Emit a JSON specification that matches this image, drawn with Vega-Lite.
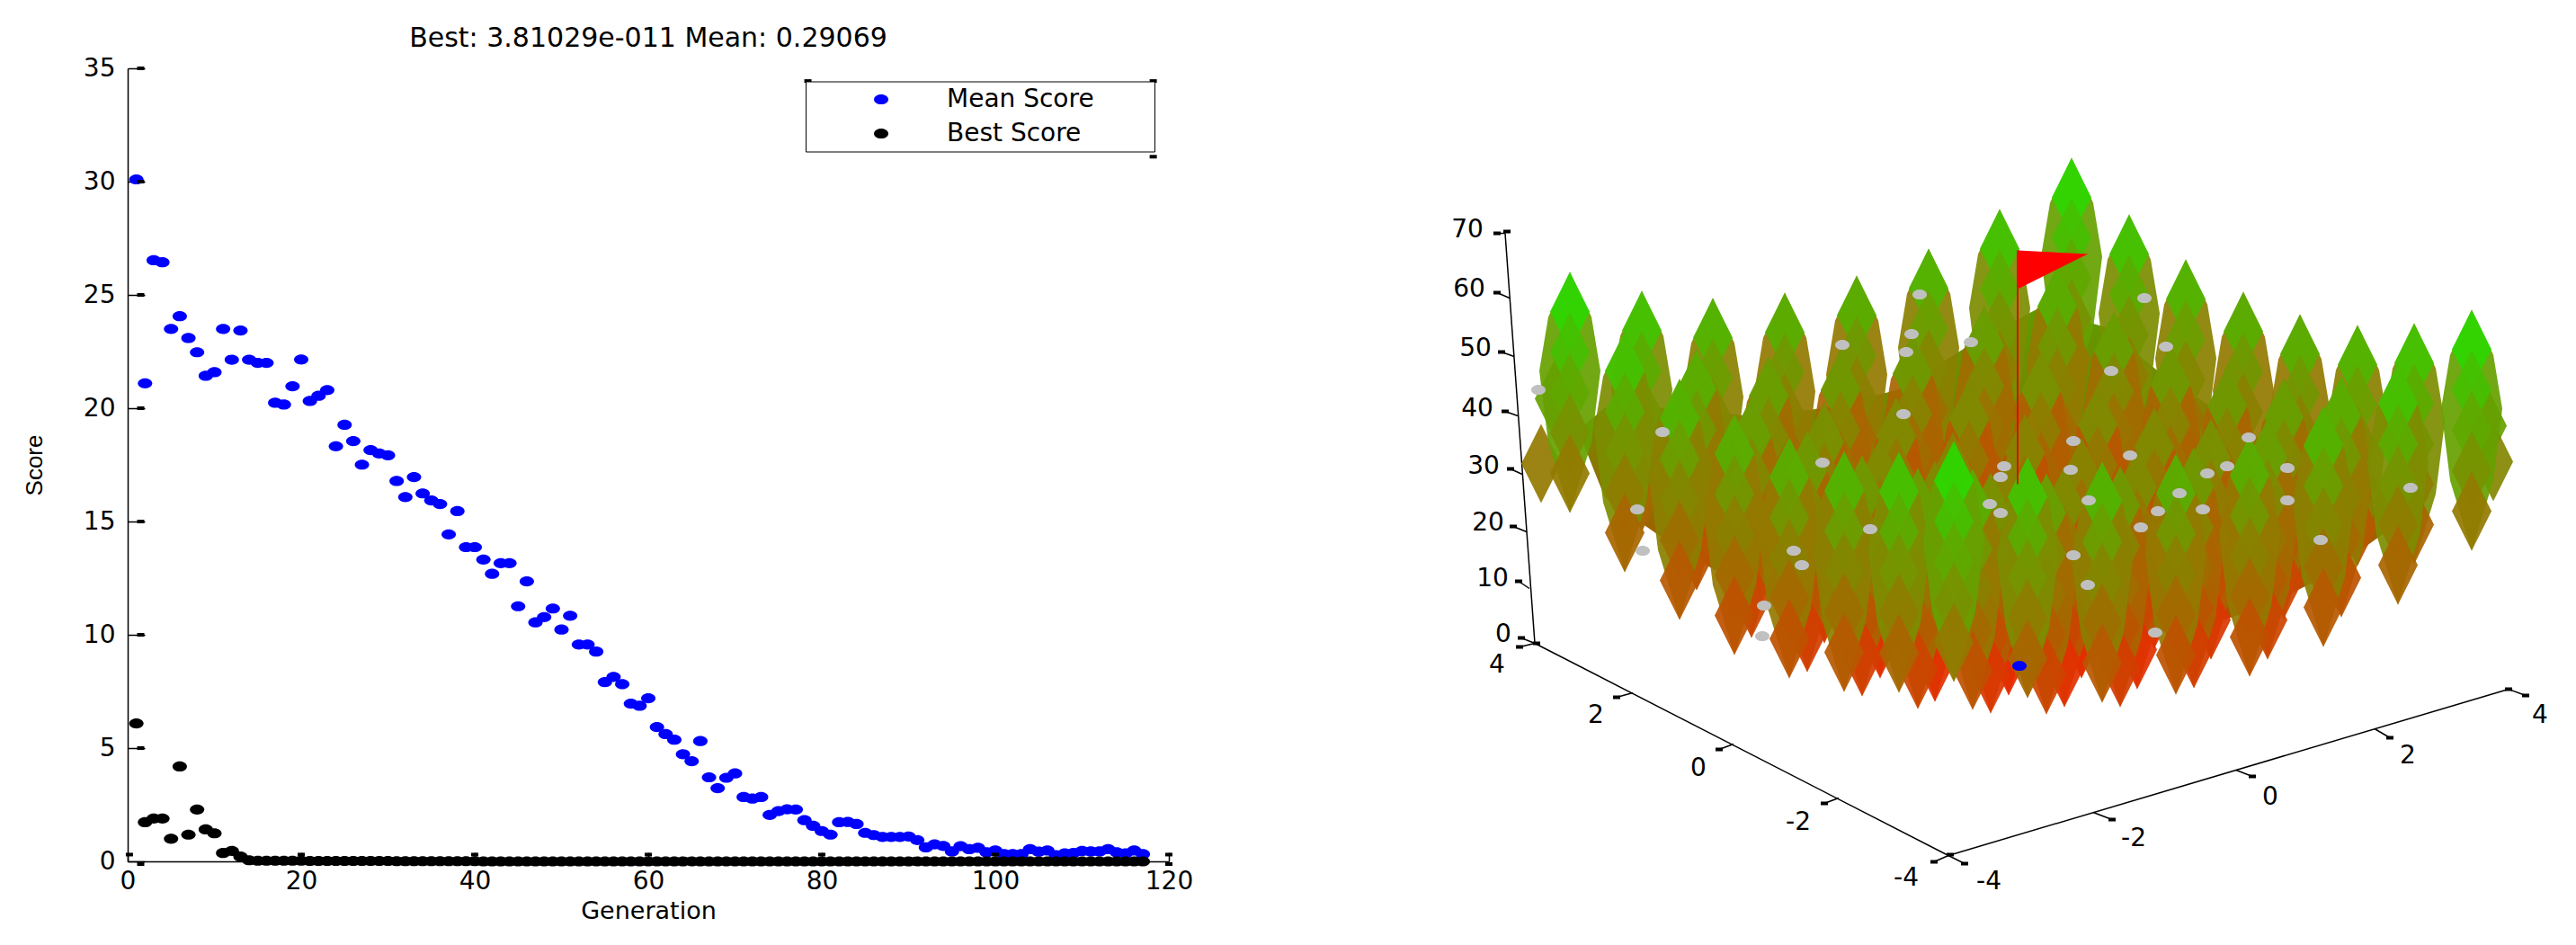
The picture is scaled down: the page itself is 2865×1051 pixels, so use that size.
{
"$schema":"https://vega.github.io/schema/vega-lite/v6.json",
"background":"white",
"padding":{"left":25,"top":28,"right":0,"bottom":0},
"bounds":"flush",
"spacing":201,
"config":{"view":{"stroke":null},"font":"DejaVu Sans","axis":{"grid":false,"domainColor":"black","tickColor":"black","labelColor":"black","titleColor":"black","domainWidth":1.5,"tickWidth":1.5,"labelFont":"DejaVu Sans","labelFontSize":28,"titleFont":"DejaVu Sans","titleFontWeight":"normal"}},
"datasets":{
"scores":[
{"generation":1,"score":30.1,"series":"Mean Score"},{"generation":2,"score":21.1,"series":"Mean Score"},{"generation":3,"score":26.53,"series":"Mean Score"},{"generation":4,"score":26.44,"series":"Mean Score"},{"generation":5,"score":23.5,"series":"Mean Score"},{"generation":6,"score":24.06,"series":"Mean Score"},{"generation":7,"score":23.1,"series":"Mean Score"},{"generation":8,"score":22.47,"series":"Mean Score"},{"generation":9,"score":21.43,"series":"Mean Score"},{"generation":10,"score":21.59,"series":"Mean Score"},
{"generation":11,"score":23.5,"series":"Mean Score"},{"generation":12,"score":22.14,"series":"Mean Score"},{"generation":13,"score":23.43,"series":"Mean Score"},{"generation":14,"score":22.14,"series":"Mean Score"},{"generation":15,"score":22.0,"series":"Mean Score"},{"generation":16,"score":22.0,"series":"Mean Score"},{"generation":17,"score":20.24,"series":"Mean Score"},{"generation":18,"score":20.16,"series":"Mean Score"},{"generation":19,"score":20.97,"series":"Mean Score"},{"generation":20,"score":22.15,"series":"Mean Score"},
{"generation":21,"score":20.32,"series":"Mean Score"},{"generation":22,"score":20.55,"series":"Mean Score"},{"generation":23,"score":20.8,"series":"Mean Score"},{"generation":24,"score":18.32,"series":"Mean Score"},{"generation":25,"score":19.27,"series":"Mean Score"},{"generation":26,"score":18.55,"series":"Mean Score"},{"generation":27,"score":17.51,"series":"Mean Score"},{"generation":28,"score":18.15,"series":"Mean Score"},{"generation":29,"score":18.0,"series":"Mean Score"},{"generation":30,"score":17.92,"series":"Mean Score"},
{"generation":31,"score":16.79,"series":"Mean Score"},{"generation":32,"score":16.08,"series":"Mean Score"},{"generation":33,"score":16.96,"series":"Mean Score"},{"generation":34,"score":16.24,"series":"Mean Score"},{"generation":35,"score":15.93,"series":"Mean Score"},{"generation":36,"score":15.77,"series":"Mean Score"},{"generation":37,"score":14.43,"series":"Mean Score"},{"generation":38,"score":15.46,"series":"Mean Score"},{"generation":39,"score":13.87,"series":"Mean Score"},{"generation":40,"score":13.87,"series":"Mean Score"},
{"generation":41,"score":13.32,"series":"Mean Score"},{"generation":42,"score":12.69,"series":"Mean Score"},{"generation":43,"score":13.16,"series":"Mean Score"},{"generation":44,"score":13.16,"series":"Mean Score"},{"generation":45,"score":11.26,"series":"Mean Score"},{"generation":46,"score":12.36,"series":"Mean Score"},{"generation":47,"score":10.55,"series":"Mean Score"},{"generation":48,"score":10.78,"series":"Mean Score"},{"generation":49,"score":11.16,"series":"Mean Score"},{"generation":50,"score":10.23,"series":"Mean Score"},
{"generation":51,"score":10.84,"series":"Mean Score"},{"generation":52,"score":9.57,"series":"Mean Score"},{"generation":53,"score":9.57,"series":"Mean Score"},{"generation":54,"score":9.26,"series":"Mean Score"},{"generation":55,"score":7.91,"series":"Mean Score"},{"generation":56,"score":8.14,"series":"Mean Score"},{"generation":57,"score":7.82,"series":"Mean Score"},{"generation":58,"score":6.96,"series":"Mean Score"},{"generation":59,"score":6.87,"series":"Mean Score"},{"generation":60,"score":7.2,"series":"Mean Score"},
{"generation":61,"score":5.93,"series":"Mean Score"},{"generation":62,"score":5.62,"series":"Mean Score"},{"generation":63,"score":5.37,"series":"Mean Score"},{"generation":64,"score":4.73,"series":"Mean Score"},{"generation":65,"score":4.42,"series":"Mean Score"},{"generation":66,"score":5.31,"series":"Mean Score"},{"generation":67,"score":3.71,"series":"Mean Score"},{"generation":68,"score":3.23,"series":"Mean Score"},{"generation":69,"score":3.69,"series":"Mean Score"},{"generation":70,"score":3.88,"series":"Mean Score"},
{"generation":71,"score":2.84,"series":"Mean Score"},{"generation":72,"score":2.77,"series":"Mean Score"},{"generation":73,"score":2.84,"series":"Mean Score"},{"generation":74,"score":2.05,"series":"Mean Score"},{"generation":75,"score":2.22,"series":"Mean Score"},{"generation":76,"score":2.3,"series":"Mean Score"},{"generation":77,"score":2.29,"series":"Mean Score"},{"generation":78,"score":1.82,"series":"Mean Score"},{"generation":79,"score":1.57,"series":"Mean Score"},{"generation":80,"score":1.34,"series":"Mean Score"},
{"generation":81,"score":1.18,"series":"Mean Score"},{"generation":82,"score":1.73,"series":"Mean Score"},{"generation":83,"score":1.74,"series":"Mean Score"},{"generation":84,"score":1.65,"series":"Mean Score"},{"generation":85,"score":1.26,"series":"Mean Score"},{"generation":86,"score":1.16,"series":"Mean Score"},{"generation":87,"score":1.08,"series":"Mean Score"},{"generation":88,"score":1.08,"series":"Mean Score"},{"generation":89,"score":1.08,"series":"Mean Score"},{"generation":90,"score":1.1,"series":"Mean Score"},
{"generation":91,"score":0.94,"series":"Mean Score"},{"generation":92,"score":0.62,"series":"Mean Score"},{"generation":93,"score":0.75,"series":"Mean Score"},{"generation":94,"score":0.68,"series":"Mean Score"},{"generation":95,"score":0.44,"series":"Mean Score"},{"generation":96,"score":0.67,"series":"Mean Score"},{"generation":97,"score":0.54,"series":"Mean Score"},{"generation":98,"score":0.6,"series":"Mean Score"},{"generation":99,"score":0.4,"series":"Mean Score"},{"generation":100,"score":0.48,"series":"Mean Score"},
{"generation":101,"score":0.32,"series":"Mean Score"},{"generation":102,"score":0.32,"series":"Mean Score"},{"generation":103,"score":0.32,"series":"Mean Score"},{"generation":104,"score":0.54,"series":"Mean Score"},{"generation":105,"score":0.43,"series":"Mean Score"},{"generation":106,"score":0.48,"series":"Mean Score"},{"generation":107,"score":0.27,"series":"Mean Score"},{"generation":108,"score":0.35,"series":"Mean Score"},{"generation":109,"score":0.37,"series":"Mean Score"},{"generation":110,"score":0.46,"series":"Mean Score"},
{"generation":111,"score":0.44,"series":"Mean Score"},{"generation":112,"score":0.44,"series":"Mean Score"},{"generation":113,"score":0.54,"series":"Mean Score"},{"generation":114,"score":0.4,"series":"Mean Score"},{"generation":115,"score":0.35,"series":"Mean Score"},{"generation":116,"score":0.48,"series":"Mean Score"},{"generation":117,"score":0.32,"series":"Mean Score"},
{"generation":1,"score":6.09,"series":"Best Score"},{"generation":2,"score":1.73,"series":"Best Score"},{"generation":3,"score":1.89,"series":"Best Score"},{"generation":4,"score":1.89,"series":"Best Score"},{"generation":5,"score":1.0,"series":"Best Score"},{"generation":6,"score":4.19,"series":"Best Score"},{"generation":7,"score":1.18,"series":"Best Score"},{"generation":8,"score":2.29,"series":"Best Score"},{"generation":9,"score":1.41,"series":"Best Score"},{"generation":10,"score":1.24,"series":"Best Score"},
{"generation":11,"score":0.37,"series":"Best Score"},{"generation":12,"score":0.46,"series":"Best Score"},{"generation":13,"score":0.21,"series":"Best Score"},{"generation":14,"score":0.05,"series":"Best Score"},{"generation":15,"score":0.03,"series":"Best Score"},{"generation":16,"score":0.03,"series":"Best Score"},{"generation":17,"score":0.03,"series":"Best Score"},{"generation":18,"score":0.03,"series":"Best Score"},{"generation":19,"score":0.03,"series":"Best Score"},{"generation":20,"score":0.03,"series":"Best Score"},
{"generation":21,"score":0.02,"series":"Best Score"},{"generation":22,"score":0.02,"series":"Best Score"},{"generation":23,"score":0.02,"series":"Best Score"},{"generation":24,"score":0.02,"series":"Best Score"},{"generation":25,"score":0.02,"series":"Best Score"},{"generation":26,"score":0.02,"series":"Best Score"},{"generation":27,"score":0.02,"series":"Best Score"},{"generation":28,"score":0.02,"series":"Best Score"},{"generation":29,"score":0.02,"series":"Best Score"},{"generation":30,"score":0.02,"series":"Best Score"},
{"generation":31,"score":0.01,"series":"Best Score"},{"generation":32,"score":0.01,"series":"Best Score"},{"generation":33,"score":0.01,"series":"Best Score"},{"generation":34,"score":0.01,"series":"Best Score"},{"generation":35,"score":0.01,"series":"Best Score"},{"generation":36,"score":0.01,"series":"Best Score"},{"generation":37,"score":0.01,"series":"Best Score"},{"generation":38,"score":0.01,"series":"Best Score"},{"generation":39,"score":0.01,"series":"Best Score"},{"generation":40,"score":0.01,"series":"Best Score"},
{"generation":41,"score":0,"series":"Best Score"},{"generation":42,"score":0,"series":"Best Score"},{"generation":43,"score":0,"series":"Best Score"},{"generation":44,"score":0,"series":"Best Score"},{"generation":45,"score":0,"series":"Best Score"},{"generation":46,"score":0,"series":"Best Score"},{"generation":47,"score":0,"series":"Best Score"},{"generation":48,"score":0,"series":"Best Score"},{"generation":49,"score":0,"series":"Best Score"},{"generation":50,"score":0,"series":"Best Score"},
{"generation":51,"score":0,"series":"Best Score"},{"generation":52,"score":0,"series":"Best Score"},{"generation":53,"score":0,"series":"Best Score"},{"generation":54,"score":0,"series":"Best Score"},{"generation":55,"score":0,"series":"Best Score"},{"generation":56,"score":0,"series":"Best Score"},{"generation":57,"score":0,"series":"Best Score"},{"generation":58,"score":0,"series":"Best Score"},{"generation":59,"score":0,"series":"Best Score"},{"generation":60,"score":0,"series":"Best Score"},
{"generation":61,"score":0,"series":"Best Score"},{"generation":62,"score":0,"series":"Best Score"},{"generation":63,"score":0,"series":"Best Score"},{"generation":64,"score":0,"series":"Best Score"},{"generation":65,"score":0,"series":"Best Score"},{"generation":66,"score":0,"series":"Best Score"},{"generation":67,"score":0,"series":"Best Score"},{"generation":68,"score":0,"series":"Best Score"},{"generation":69,"score":0,"series":"Best Score"},{"generation":70,"score":0,"series":"Best Score"},
{"generation":71,"score":0,"series":"Best Score"},{"generation":72,"score":0,"series":"Best Score"},{"generation":73,"score":0,"series":"Best Score"},{"generation":74,"score":0,"series":"Best Score"},{"generation":75,"score":0,"series":"Best Score"},{"generation":76,"score":0,"series":"Best Score"},{"generation":77,"score":0,"series":"Best Score"},{"generation":78,"score":0,"series":"Best Score"},{"generation":79,"score":0,"series":"Best Score"},{"generation":80,"score":0,"series":"Best Score"},
{"generation":81,"score":0,"series":"Best Score"},{"generation":82,"score":0,"series":"Best Score"},{"generation":83,"score":0,"series":"Best Score"},{"generation":84,"score":0,"series":"Best Score"},{"generation":85,"score":0,"series":"Best Score"},{"generation":86,"score":0,"series":"Best Score"},{"generation":87,"score":0,"series":"Best Score"},{"generation":88,"score":0,"series":"Best Score"},{"generation":89,"score":0,"series":"Best Score"},{"generation":90,"score":0,"series":"Best Score"},
{"generation":91,"score":0,"series":"Best Score"},{"generation":92,"score":0,"series":"Best Score"},{"generation":93,"score":0,"series":"Best Score"},{"generation":94,"score":0,"series":"Best Score"},{"generation":95,"score":0,"series":"Best Score"},{"generation":96,"score":0,"series":"Best Score"},{"generation":97,"score":0,"series":"Best Score"},{"generation":98,"score":0,"series":"Best Score"},{"generation":99,"score":0,"series":"Best Score"},{"generation":100,"score":0,"series":"Best Score"},
{"generation":101,"score":0,"series":"Best Score"},{"generation":102,"score":0,"series":"Best Score"},{"generation":103,"score":0,"series":"Best Score"},{"generation":104,"score":0,"series":"Best Score"},{"generation":105,"score":0,"series":"Best Score"},{"generation":106,"score":0,"series":"Best Score"},{"generation":107,"score":0,"series":"Best Score"},{"generation":108,"score":0,"series":"Best Score"},{"generation":109,"score":0,"series":"Best Score"},{"generation":110,"score":0,"series":"Best Score"},
{"generation":111,"score":0,"series":"Best Score"},{"generation":112,"score":0,"series":"Best Score"},{"generation":113,"score":0,"series":"Best Score"},{"generation":114,"score":0,"series":"Best Score"},{"generation":115,"score":0,"series":"Best Score"},{"generation":116,"score":0,"series":"Best Score"},{"generation":117,"score":0,"series":"Best Score"}
],
"leftNubs":[
{"generation":1.5,"score":35},{"generation":1.5,"score":30},{"generation":1.5,"score":25},{"generation":1.5,"score":20},{"generation":1.5,"score":15},{"generation":1.5,"score":10},{"generation":1.5,"score":5},{"generation":1.5,"score":-0.12},
{"generation":0.2,"score":0.3},{"generation":20,"score":0.3},{"generation":40,"score":0.3},{"generation":60,"score":0.3},{"generation":80,"score":0.3},{"generation":100,"score":0.3},{"generation":120,"score":0.3},{"generation":120,"score":-0.12},
{"generation":78.4,"score":34.44},{"generation":118.2,"score":34.44},{"generation":118.2,"score":31.1}
],
"hull":[
{"h":1760,"v":470,"v2":490},{"h":1784,"v":450,"v2":550},{"h":1870,"v":450,"v2":610},{"h":1950,"v":460,"v2":655},{"h":2030,"v":450,"v2":675},{"h":2110,"v":430,"v2":690},{"h":2190,"v":380,"v2":700},{"h":2265,"v":340,"v2":705},{"h":2340,"v":360,"v2":705},{"h":2400,"v":410,"v2":700},{"h":2460,"v":450,"v2":690},{"h":2520,"v":490,"v2":670},{"h":2580,"v":510,"v2":640},{"h":2650,"v":530,"v2":590},{"h":2700,"v":530,"v2":550}
],
"surface":[
{"h":1728,"v":440,"z":42},{"h":1713,"v":512,"z":30},{"h":2765,"v":470,"z":42},{"h":2772,"v":510,"z":34},
{"h":2303,"v":172,"z":42,"spike":1},{"h":2303,"v":216,"z":58},{"h":2303,"v":261,"z":51},{"h":2303,"v":306,"z":44},{"h":2303,"v":351,"z":37},{"h":2303,"v":396,"z":30},
{"h":2367,"v":235,"z":36,"spike":1},{"h":2367,"v":279,"z":52},{"h":2367,"v":324,"z":45},{"h":2367,"v":369,"z":38},{"h":2367,"v":414,"z":31},{"h":2367,"v":459,"z":24},
{"h":2223,"v":229,"z":36,"spike":1},{"h":2223,"v":273,"z":52},{"h":2223,"v":318,"z":45},{"h":2223,"v":363,"z":38},{"h":2223,"v":408,"z":31},{"h":2223,"v":453,"z":24},
{"h":2430,"v":285,"z":32,"spike":1},{"h":2430,"v":329,"z":48},{"h":2430,"v":374,"z":41},{"h":2430,"v":419,"z":34},{"h":2430,"v":464,"z":27},{"h":2430,"v":509,"z":20},
{"h":2287,"v":293,"z":30,"spike":1},{"h":2287,"v":337,"z":46},{"h":2287,"v":382,"z":39},{"h":2287,"v":427,"z":32},{"h":2287,"v":472,"z":25},{"h":2287,"v":517,"z":18},
{"h":2144,"v":273,"z":32,"spike":1},{"h":2144,"v":317,"z":48},{"h":2144,"v":362,"z":41},{"h":2144,"v":407,"z":34},{"h":2144,"v":452,"z":27},{"h":2144,"v":497,"z":20},
{"h":2494,"v":321,"z":30,"spike":1},{"h":2494,"v":365,"z":46},{"h":2494,"v":410,"z":39},{"h":2494,"v":455,"z":32},{"h":2494,"v":500,"z":25},{"h":2494,"v":545,"z":18},
{"h":2350,"v":343,"z":26,"spike":1},{"h":2350,"v":387,"z":42},{"h":2350,"v":432,"z":35},{"h":2350,"v":477,"z":28},{"h":2350,"v":522,"z":21},{"h":2350,"v":567,"z":14},
{"h":2206,"v":337,"z":26,"spike":1},{"h":2206,"v":381,"z":42},{"h":2206,"v":426,"z":35},{"h":2206,"v":471,"z":28},{"h":2206,"v":516,"z":21},{"h":2206,"v":561,"z":14},
{"h":2064,"v":303,"z":30,"spike":1},{"h":2064,"v":347,"z":46},{"h":2064,"v":392,"z":39},{"h":2064,"v":437,"z":32},{"h":2064,"v":482,"z":25},{"h":2064,"v":527,"z":18},
{"h":2557,"v":346,"z":30,"spike":1},{"h":2557,"v":390,"z":46},{"h":2557,"v":435,"z":39},{"h":2557,"v":480,"z":32},{"h":2557,"v":525,"z":25},{"h":2557,"v":570,"z":18},
{"h":2413,"v":380,"z":24,"spike":1},{"h":2413,"v":424,"z":40},{"h":2413,"v":469,"z":33},{"h":2413,"v":514,"z":26},{"h":2413,"v":559,"z":19},{"h":2413,"v":604,"z":12},
{"h":2269,"v":387,"z":22,"spike":1},{"h":2269,"v":431,"z":38},{"h":2269,"v":476,"z":31},{"h":2269,"v":521,"z":24},{"h":2269,"v":566,"z":17},{"h":2269,"v":611,"z":10},
{"h":2126,"v":368,"z":24,"spike":1},{"h":2126,"v":412,"z":40},{"h":2126,"v":457,"z":33},{"h":2126,"v":502,"z":26},{"h":2126,"v":547,"z":19},{"h":2126,"v":592,"z":12},
{"h":1984,"v":322,"z":30,"spike":1},{"h":1984,"v":366,"z":46},{"h":1984,"v":411,"z":39},{"h":1984,"v":456,"z":32},{"h":1984,"v":501,"z":25},{"h":1984,"v":546,"z":18},
{"h":2621,"v":358,"z":32,"spike":1},{"h":2621,"v":402,"z":48},{"h":2621,"v":447,"z":41},{"h":2621,"v":492,"z":34},{"h":2621,"v":537,"z":27},{"h":2621,"v":582,"z":20},
{"h":2476,"v":404,"z":24,"spike":1},{"h":2476,"v":448,"z":40},{"h":2476,"v":493,"z":33},{"h":2476,"v":538,"z":26},{"h":2476,"v":583,"z":19},{"h":2476,"v":628,"z":12},
{"h":2332,"v":425,"z":20,"spike":1},{"h":2332,"v":469,"z":36},{"h":2332,"v":514,"z":29},{"h":2332,"v":559,"z":22},{"h":2332,"v":604,"z":15},{"h":2332,"v":649,"z":8},
{"h":2189,"v":419,"z":20,"spike":1},{"h":2189,"v":463,"z":36},{"h":2189,"v":508,"z":29},{"h":2189,"v":553,"z":22},{"h":2189,"v":598,"z":15},{"h":2189,"v":643,"z":8},
{"h":2046,"v":386,"z":24,"spike":1},{"h":2046,"v":430,"z":40},{"h":2046,"v":475,"z":33},{"h":2046,"v":520,"z":26},{"h":2046,"v":565,"z":19},{"h":2046,"v":610,"z":12},
{"h":1904,"v":328,"z":32,"spike":1},{"h":1904,"v":372,"z":48},{"h":1904,"v":417,"z":41},{"h":1904,"v":462,"z":34},{"h":1904,"v":507,"z":27},{"h":1904,"v":552,"z":20},
{"h":2684,"v":356,"z":36,"spike":1},{"h":2684,"v":400,"z":52},{"h":2684,"v":445,"z":45},{"h":2684,"v":490,"z":38},{"h":2684,"v":535,"z":31},{"h":2684,"v":580,"z":24},
{"h":2539,"v":417,"z":26,"spike":1},{"h":2539,"v":461,"z":42},{"h":2539,"v":506,"z":35},{"h":2539,"v":551,"z":28},{"h":2539,"v":596,"z":21},{"h":2539,"v":641,"z":14},
{"h":2395,"v":450,"z":20,"spike":1},{"h":2395,"v":494,"z":36},{"h":2395,"v":539,"z":29},{"h":2395,"v":584,"z":22},{"h":2395,"v":629,"z":15},{"h":2395,"v":674,"z":8},
{"h":2251,"v":457,"z":18,"spike":1},{"h":2251,"v":501,"z":34},{"h":2251,"v":546,"z":27},{"h":2251,"v":591,"z":20},{"h":2251,"v":636,"z":13},{"h":2251,"v":681,"z":6},
{"h":2108,"v":438,"z":20,"spike":1},{"h":2108,"v":482,"z":36},{"h":2108,"v":527,"z":29},{"h":2108,"v":572,"z":22},{"h":2108,"v":617,"z":15},{"h":2108,"v":662,"z":8},
{"h":1966,"v":393,"z":26,"spike":1},{"h":1966,"v":437,"z":42},{"h":1966,"v":482,"z":35},{"h":1966,"v":527,"z":28},{"h":1966,"v":572,"z":21},{"h":1966,"v":617,"z":14},
{"h":1825,"v":320,"z":36,"spike":1},{"h":1825,"v":364,"z":52},{"h":1825,"v":409,"z":45},{"h":1825,"v":454,"z":38},{"h":1825,"v":499,"z":31},{"h":1825,"v":544,"z":24},
{"h":2748,"v":341,"z":42,"spike":1},{"h":2748,"v":385,"z":58},{"h":2748,"v":430,"z":51},{"h":2748,"v":475,"z":44},{"h":2748,"v":520,"z":37},{"h":2748,"v":565,"z":30},
{"h":2603,"v":415,"z":30,"spike":1},{"h":2603,"v":459,"z":46},{"h":2603,"v":504,"z":39},{"h":2603,"v":549,"z":32},{"h":2603,"v":594,"z":25},{"h":2603,"v":639,"z":18},
{"h":2458,"v":462,"z":22,"spike":1},{"h":2458,"v":506,"z":38},{"h":2458,"v":551,"z":31},{"h":2458,"v":596,"z":24},{"h":2458,"v":641,"z":17},{"h":2458,"v":686,"z":10},
{"h":2314,"v":483,"z":18,"spike":1},{"h":2314,"v":527,"z":34},{"h":2314,"v":572,"z":27},{"h":2314,"v":617,"z":20},{"h":2314,"v":662,"z":13},{"h":2314,"v":707,"z":6},
{"h":2171,"v":477,"z":18,"spike":1},{"h":2171,"v":521,"z":34},{"h":2171,"v":566,"z":27},{"h":2171,"v":611,"z":20},{"h":2171,"v":656,"z":13},{"h":2171,"v":701,"z":6},
{"h":2028,"v":444,"z":22,"spike":1},{"h":2028,"v":488,"z":38},{"h":2028,"v":533,"z":31},{"h":2028,"v":578,"z":24},{"h":2028,"v":623,"z":17},{"h":2028,"v":668,"z":10},
{"h":1886,"v":385,"z":30,"spike":1},{"h":1886,"v":429,"z":46},{"h":1886,"v":474,"z":39},{"h":1886,"v":519,"z":32},{"h":1886,"v":564,"z":25},{"h":1886,"v":609,"z":18},
{"h":1745,"v":299,"z":42,"spike":1},{"h":1745,"v":343,"z":58},{"h":1745,"v":388,"z":51},{"h":1745,"v":433,"z":44},{"h":1745,"v":478,"z":37},{"h":1745,"v":523,"z":30},
{"h":2666,"v":401,"z":36,"spike":1},{"h":2666,"v":445,"z":52},{"h":2666,"v":490,"z":45},{"h":2666,"v":535,"z":38},{"h":2666,"v":580,"z":31},{"h":2666,"v":625,"z":24},
{"h":2521,"v":462,"z":26,"spike":1},{"h":2521,"v":506,"z":42},{"h":2521,"v":551,"z":35},{"h":2521,"v":596,"z":28},{"h":2521,"v":641,"z":21},{"h":2521,"v":686,"z":14},
{"h":2376,"v":495,"z":20,"spike":1},{"h":2376,"v":539,"z":36},{"h":2376,"v":584,"z":29},{"h":2376,"v":629,"z":22},{"h":2376,"v":674,"z":15},{"h":2376,"v":719,"z":8},
{"h":2233,"v":502,"z":18,"spike":1},{"h":2233,"v":546,"z":34},{"h":2233,"v":591,"z":27},{"h":2233,"v":636,"z":20},{"h":2233,"v":681,"z":13},{"h":2233,"v":726,"z":6},
{"h":2090,"v":483,"z":20,"spike":1},{"h":2090,"v":527,"z":36},{"h":2090,"v":572,"z":29},{"h":2090,"v":617,"z":22},{"h":2090,"v":662,"z":15},{"h":2090,"v":707,"z":8},
{"h":1947,"v":438,"z":26,"spike":1},{"h":1947,"v":482,"z":42},{"h":1947,"v":527,"z":35},{"h":1947,"v":572,"z":28},{"h":1947,"v":617,"z":21},{"h":1947,"v":662,"z":14},
{"h":1806,"v":365,"z":36,"spike":1},{"h":1806,"v":409,"z":52},{"h":1806,"v":454,"z":45},{"h":1806,"v":499,"z":38},{"h":1806,"v":544,"z":31},{"h":1806,"v":589,"z":24},
{"h":2583,"v":448,"z":32,"spike":1},{"h":2583,"v":492,"z":48},{"h":2583,"v":537,"z":41},{"h":2583,"v":582,"z":34},{"h":2583,"v":627,"z":27},{"h":2583,"v":672,"z":20},
{"h":2439,"v":494,"z":24,"spike":1},{"h":2439,"v":538,"z":40},{"h":2439,"v":583,"z":33},{"h":2439,"v":628,"z":26},{"h":2439,"v":673,"z":19},{"h":2439,"v":718,"z":12},
{"h":2295,"v":515,"z":20,"spike":1},{"h":2295,"v":559,"z":36},{"h":2295,"v":604,"z":29},{"h":2295,"v":649,"z":22},{"h":2295,"v":694,"z":15},{"h":2295,"v":739,"z":8},
{"h":2151,"v":509,"z":20,"spike":1},{"h":2151,"v":553,"z":36},{"h":2151,"v":598,"z":29},{"h":2151,"v":643,"z":22},{"h":2151,"v":688,"z":15},{"h":2151,"v":733,"z":8},
{"h":2009,"v":476,"z":24,"spike":1},{"h":2009,"v":520,"z":40},{"h":2009,"v":565,"z":33},{"h":2009,"v":610,"z":26},{"h":2009,"v":655,"z":19},{"h":2009,"v":700,"z":12},
{"h":1867,"v":418,"z":32,"spike":1},{"h":1867,"v":462,"z":48},{"h":1867,"v":507,"z":41},{"h":1867,"v":552,"z":34},{"h":1867,"v":597,"z":27},{"h":1867,"v":642,"z":20},
{"h":2501,"v":481,"z":30,"spike":1},{"h":2501,"v":525,"z":46},{"h":2501,"v":570,"z":39},{"h":2501,"v":615,"z":32},{"h":2501,"v":660,"z":25},{"h":2501,"v":705,"z":18},
{"h":2357,"v":515,"z":24,"spike":1},{"h":2357,"v":559,"z":40},{"h":2357,"v":604,"z":33},{"h":2357,"v":649,"z":26},{"h":2357,"v":694,"z":19},{"h":2357,"v":739,"z":12},
{"h":2213,"v":522,"z":22,"spike":1},{"h":2213,"v":566,"z":38},{"h":2213,"v":611,"z":31},{"h":2213,"v":656,"z":24},{"h":2213,"v":701,"z":17},{"h":2213,"v":746,"z":10},
{"h":2070,"v":503,"z":24,"spike":1},{"h":2070,"v":547,"z":40},{"h":2070,"v":592,"z":33},{"h":2070,"v":637,"z":26},{"h":2070,"v":682,"z":19},{"h":2070,"v":727,"z":12},
{"h":1928,"v":457,"z":30,"spike":1},{"h":1928,"v":501,"z":46},{"h":1928,"v":546,"z":39},{"h":1928,"v":591,"z":32},{"h":1928,"v":636,"z":25},{"h":1928,"v":681,"z":18},
{"h":2419,"v":501,"z":30,"spike":1},{"h":2419,"v":545,"z":46},{"h":2419,"v":590,"z":39},{"h":2419,"v":635,"z":32},{"h":2419,"v":680,"z":25},{"h":2419,"v":725,"z":18},
{"h":2275,"v":523,"z":26,"spike":1},{"h":2275,"v":567,"z":42},{"h":2275,"v":612,"z":35},{"h":2275,"v":657,"z":28},{"h":2275,"v":702,"z":21},{"h":2275,"v":747,"z":14},
{"h":2132,"v":517,"z":26,"spike":1},{"h":2132,"v":561,"z":42},{"h":2132,"v":606,"z":35},{"h":2132,"v":651,"z":28},{"h":2132,"v":696,"z":21},{"h":2132,"v":741,"z":14},
{"h":1989,"v":483,"z":30,"spike":1},{"h":1989,"v":527,"z":46},{"h":1989,"v":572,"z":39},{"h":1989,"v":617,"z":32},{"h":1989,"v":662,"z":25},{"h":1989,"v":707,"z":18},
{"h":2337,"v":510,"z":32,"spike":1},{"h":2337,"v":554,"z":48},{"h":2337,"v":599,"z":41},{"h":2337,"v":644,"z":34},{"h":2337,"v":689,"z":27},{"h":2337,"v":734,"z":20},
{"h":2193,"v":518,"z":30,"spike":1},{"h":2193,"v":562,"z":46},{"h":2193,"v":607,"z":39},{"h":2193,"v":652,"z":32},{"h":2193,"v":697,"z":25},{"h":2193,"v":742,"z":18},
{"h":2050,"v":498,"z":32,"spike":1},{"h":2050,"v":542,"z":48},{"h":2050,"v":587,"z":41},{"h":2050,"v":632,"z":34},{"h":2050,"v":677,"z":27},{"h":2050,"v":722,"z":20},
{"h":2254,"v":505,"z":36,"spike":1},{"h":2254,"v":549,"z":52},{"h":2254,"v":594,"z":45},{"h":2254,"v":639,"z":38},{"h":2254,"v":684,"z":31},{"h":2254,"v":729,"z":24},
{"h":2111,"v":499,"z":36,"spike":1},{"h":2111,"v":543,"z":52},{"h":2111,"v":588,"z":45},{"h":2111,"v":633,"z":38},{"h":2111,"v":678,"z":31},{"h":2111,"v":723,"z":24},
{"h":2172,"v":487,"z":42,"spike":1},{"h":2172,"v":531,"z":58},{"h":2172,"v":576,"z":51},{"h":2172,"v":621,"z":44},{"h":2172,"v":666,"z":37},{"h":2172,"v":711,"z":30}
],
"population":[
{"h":1710,"v":430},{"h":1848,"v":477},{"h":2026,"v":511},{"h":1820,"v":563},{"h":2134,"v":324},{"h":2048,"v":380},{"h":2125,"v":368},{"h":2119,"v":388},{"h":2191,"v":377},{"h":2116,"v":457},{"h":2079,"v":585},
{"h":2384,"v":328},{"h":2408,"v":382},{"h":2347,"v":409},{"h":2500,"v":483},{"h":2305,"v":487},{"h":2368,"v":503},{"h":2302,"v":519},{"h":2476,"v":515},{"h":2543,"v":517},{"h":2228,"v":515},{"h":2224,"v":527},{"h":2454,"v":523},{"h":2680,"v":539},{"h":2212,"v":557},{"h":2224,"v":567},{"h":2322,"v":553},{"h":2423,"v":545},{"h":2543,"v":553},{"h":2449,"v":563},{"h":2399,"v":565},{"h":2380,"v":583},{"h":2580,"v":597},
{"h":1826,"v":609},{"h":1994,"v":609},{"h":2003,"v":625},{"h":1959,"v":704},{"h":1961,"v":670},{"h":2305,"v":614},{"h":2321,"v":647},{"h":2396,"v":700}
],
"axisLines":[
{"h":1673,"v":256,"h2":1706,"v2":712},{"h":1706,"v":712,"h2":2166,"v2":948},{"h":2166,"v":948,"h2":2789,"v2":763},
{"h":1673,"v":256,"h2":1664,"v2":256},{"h":1678,"v":328,"h2":1664,"v2":322},{"h":1683,"v":393,"h2":1669,"v2":388},{"h":1687,"v":459,"h2":1673,"v2":454},{"h":1692,"v":524,"h2":1679,"v2":518},{"h":1697,"v":588,"h2":1682,"v2":582},{"h":1700,"v":651,"h2":1688,"v2":643},{"h":1706,"v":712,"h2":1691,"v2":706},
{"h":1706,"v":712,"h2":1689,"v2":716},{"h":1815,"v":767,"h2":1797,"v2":772},{"h":1927,"v":824,"h2":1911,"v2":830},{"h":2044,"v":884,"h2":2028,"v2":890},{"h":2166,"v":948,"h2":2150,"v2":955},
{"h":2166,"v":948,"h2":2184,"v2":957},{"h":2327,"v":900,"h2":2348,"v2":908},{"h":2486,"v":853,"h2":2504,"v2":860},{"h":2640,"v":807,"h2":2657,"v2":817},{"h":2789,"v":763,"h2":2808,"v2":770}
],
"axisNubs":[
{"h":1664,"v":256},{"h":1664,"v":322},{"h":1669,"v":388},{"h":1673,"v":454},{"h":1679,"v":518},{"h":1682,"v":582},{"h":1688,"v":643},{"h":1691,"v":706},
{"h":1689,"v":716},{"h":1797,"v":772},{"h":1911,"v":830},{"h":2028,"v":890},{"h":2150,"v":955},
{"h":2184,"v":957},{"h":2348,"v":908},{"h":2504,"v":860},{"h":2657,"v":817},{"h":2808,"v":770},
{"h":1708,"v":712},{"h":2168,"v":947},{"h":2789,"v":763},{"h":1675,"v":254}
],
"axisLabels":[
{"h":1631,"v":252,"label":"70"},{"h":1633,"v":318,"label":"60"},{"h":1640,"v":384,"label":"50"},{"h":1642,"v":451,"label":"40"},{"h":1649,"v":515,"label":"30"},{"h":1654,"v":578,"label":"20"},{"h":1659,"v":640,"label":"10"},{"h":1671,"v":702,"label":"0"},
{"h":1664,"v":736,"label":"4"},{"h":1774,"v":792,"label":"2"},{"h":1888,"v":851,"label":"0"},{"h":1999,"v":911,"label":"-2"},{"h":2119,"v":973,"label":"-4"},
{"h":2211,"v":977,"label":"-4"},{"h":2372,"v":929,"label":"-2"},{"h":2524,"v":883,"label":"0"},{"h":2677,"v":837,"label":"2"},{"h":2824,"v":792,"label":"4"}
]
},
"hconcat":[
{
"width":1158,"height":882,
"title":{"text":"Best: 3.81029e-011 Mean: 0.29069","fontSize":30,"font":"DejaVu Sans","fontWeight":"normal","color":"black","anchor":"middle","offset":4},
"layer":[
{"data":{"name":"scores"},
"mark":{"type":"point","filled":true,"opacity":1,"size":256,"shape":"M-1,0A1,0.7,0,1,1,1,0A1,0.7,0,1,1,-1,0Z"},
"encoding":{
"x":{"field":"generation","type":"quantitative","scale":{"domain":[0,120],"nice":false},"axis":{"title":"Generation","values":[0,20,40,60,80,100,120],"tickSize":-10,"labelPadding":18,"titleFontSize":27,"titlePadding":6,"labelFlush":false}},
"y":{"field":"score","type":"quantitative","scale":{"domain":[0,35],"nice":false},"axis":{"title":"Score","values":[0,5,10,15,20,25,30,35],"tickSize":-19,"labelPadding":33,"titleFont":"Liberation Sans","titleFontSize":26,"titlePadding":41}},
"color":{"field":"series","type":"nominal","scale":{"domain":["Mean Score","Best Score"],"range":["#0000ff","#000000"]},
"legend":{"orient":"none","legendX":754,"legendY":14.5,"title":" ","titleOrient":"right","titlePadding":61,"symbolType":"M-1,0A1,0.7,0,1,1,1,0A1,0.7,0,1,1,-1,0Z","symbolSize":256,"padding":6,"symbolOffset":64,"labelOffset":59,"rowPadding":10,"labelFontSize":28,"labelFont":"DejaVu Sans","labelColor":"black","labelLimit":400,"fillColor":"white","strokeColor":"black"}}
}},
{"data":{"name":"leftNubs"},
"mark":{"type":"point","filled":true,"opacity":1,"color":"black","size":4,"shape":"M-4,-2H4V2H-4Z"},
"encoding":{"x":{"field":"generation","type":"quantitative"},"y":{"field":"score","type":"quantitative"}}}
]
},
{
"width":1365,"height":978.5,
"encoding":{
"x":{"field":"h","type":"quantitative","scale":{"domain":[1500,2865],"nice":false,"zero":false},"axis":null},
"y":{"field":"v","type":"quantitative","scale":{"domain":[1051,72.5],"nice":false,"zero":false},"axis":null}
},
"layer":[
{"data":{"name":"axisLines"},"mark":{"type":"rule","color":"black","strokeWidth":1.5},
"encoding":{"x2":{"field":"h2"},"y2":{"field":"v2"}}},
{"data":{"name":"axisNubs"},"mark":{"type":"point","filled":true,"opacity":1,"color":"black","size":4,"shape":"M-4,-2H4V2H-4Z"}},
{"data":{"name":"axisLabels"},"mark":{"type":"text","font":"DejaVu Sans","fontSize":28,"color":"black","align":"center","baseline":"middle"},
"encoding":{"text":{"field":"label","type":"nominal"}}},
{"data":{"name":"hull"},"mark":{"type":"area","color":{"gradient":"linear","x1":0,"y1":0,"x2":0,"y2":1,"stops":[{"offset":0,"color":"#5f9a00"},{"offset":0.4,"color":"#808000"},{"offset":1,"color":"#c04000"}]}},
"encoding":{"y2":{"field":"v2"}}},
{"data":{"name":"surface"},
"mark":{"type":"point","filled":true,"opacity":0.92,"size":4},
"encoding":{
"shape":{"condition":{"test":"datum.spike","value":"M0,0L24,50L34,110L24,190L0,268L-24,190L-34,110L-24,50Z"},"value":"M0,-44L22,0L0,44L-22,0Z"},
"color":{"field":"z","type":"quantitative","scale":{"domain":[0,70],"range":["#ff1500","#00ff00"],"interpolate":"rgb"},"legend":null}}},
{"data":{"name":"population"},
"mark":{"type":"point","filled":true,"opacity":1,"color":"#c0c0c0","size":256,"shape":"M-1,0A1,0.7,0,1,1,1,0A1,0.7,0,1,1,-1,0Z"}},
{"data":{"values":[{"h":2245,"v":737}]},
"mark":{"type":"point","filled":true,"opacity":1,"color":"#0000ff","size":256,"shape":"M-1,0A1,0.7,0,1,1,1,0A1,0.7,0,1,1,-1,0Z"}},
{"data":{"values":[{"h":2243,"v":275,"h2":2243,"v2":535}]},"mark":{"type":"rule","color":"#e01000","strokeWidth":2},
"encoding":{"x2":{"field":"h2"},"y2":{"field":"v2"}}},
{"data":{"values":[{"h":2243,"v":275}]},
"mark":{"type":"point","filled":true,"opacity":1,"color":"#ff0000","size":4,"shape":"M0,0L78,4L0,43Z"}}
]
}
]
}
